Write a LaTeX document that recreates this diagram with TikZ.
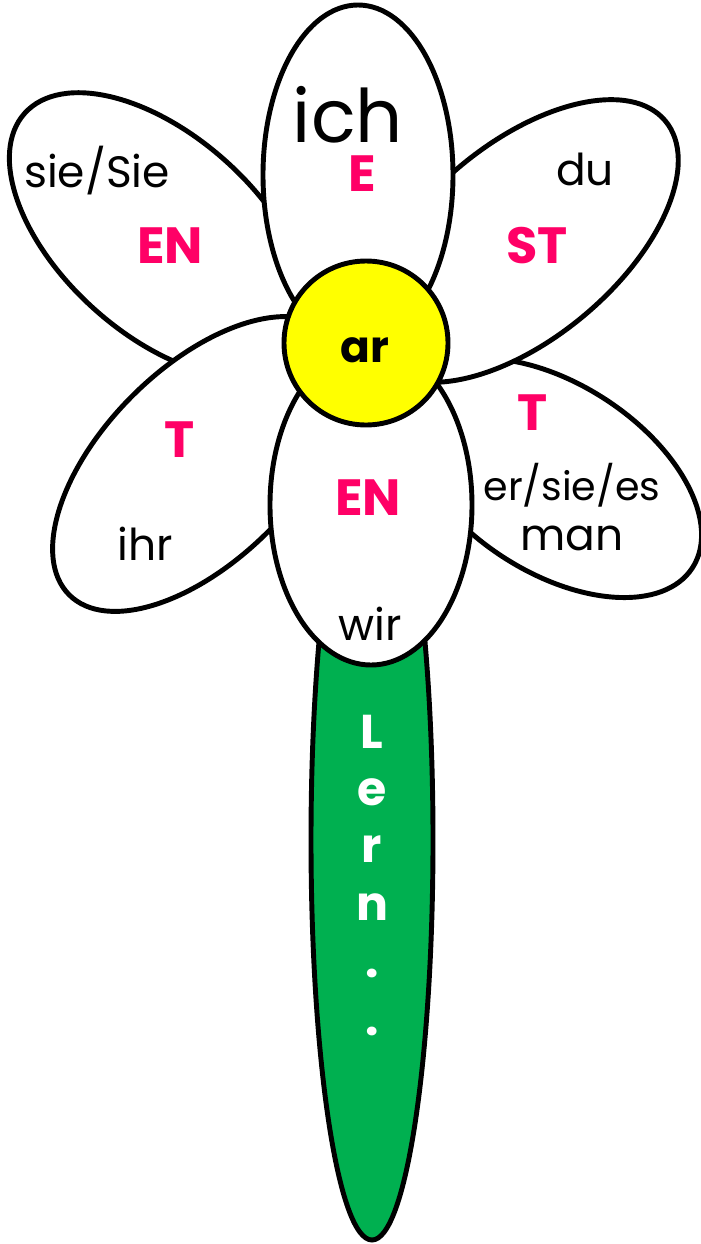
\documentclass[tikz,border=0pt]{standalone}
\usepackage{fontspec}
\setmainfont{Poppins}
\definecolor{endingpink}{RGB}{255,0,102}
\definecolor{stemgreen}{RGB}{0,176,80}
\definecolor{heartyellow}{RGB}{255,255,0}

\begin{document}
\begin{tikzpicture}[x=0.02cm,y=0.02cm,
  petal/.style={draw=black,line width=2.8pt,fill=white},
  ending/.style={text=endingpink,font=\bfseries\fontsize{29}{29}\selectfont,anchor=base,inner sep=0pt},
  pronoun/.style={font=\fontsize{25}{25}\selectfont,anchor=base,inner sep=0pt},
  stemtext/.style={text=white,font=\bfseries\fontsize{27}{27}\selectfont,anchor=base,inner sep=0pt}]
\useasboundingbox (0,0) rectangle (700,-1244);
% stem first, the petals cover its top
\draw [petal,fill=stemgreen] (372,-840) ellipse [x radius=61,y radius=400];
% petals, from back to front
\draw [petal,rotate around={-42:(160,-235)}] (160,-235) ellipse [x radius=182,y radius=99];
\draw [petal,rotate around={45:(200,-464)}] (200,-464) ellipse [x radius=185,y radius=96];
\draw [petal,rotate around={-33:(554,-478)}] (554,-478) ellipse [x radius=165,y radius=94];
\draw [petal,rotate around={40:(522,-241)}] (522,-241) ellipse [x radius=187,y radius=97];
\draw [petal] (358,-175) ellipse [x radius=95,y radius=170];
\draw [petal] (371,-505) ellipse [x radius=101,y radius=160];
% middle of the flower
\draw [petal,fill=heartyellow] (366,-343) circle [radius=82];
\node [font=\bfseries\fontsize{25}{25}\selectfont,anchor=base,inner sep=0pt] (stemword) at (365,-362) {ar};
% ich
\node [font=\fontsize{42}{42}\selectfont,anchor=base,inner sep=0pt] (ich) at (348,-142) {ich};
\node [ending] (ichend) at (362,-191) {E};
% du
\node [pronoun] (du) at (585,-185) {du};
\node [ending] (duend) at (537,-263) {ST};
% er/sie/es
\node [ending] (erend) at (533,-430) {T};
\node [pronoun,font=\fontsize{22.5}{22.5}\selectfont] (er) at (572,-500) {er/sie/es};
\node [pronoun] (man) at (572,-550) {man};
% wir
\node [ending] (wirend) at (368,-515) {EN};
\node [pronoun] (wir) at (370,-640) {wir};
% ihr
\node [ending] (ihrend) at (180,-457) {T};
\node [pronoun] (ihr) at (145,-560) {ihr};
% sie/Sie
\node [pronoun] (sie) at (97,-187) {sie/Sie};
\node [ending] (sieend) at (170,-263) {EN};
% word on the stem
\foreach \ch [count=\i] in {L,e,r,n,.,.}
  \node [stemtext] (stem\i) at (372,{-748-57.4*(\i-1)}) {\ch};
\end{tikzpicture}
\end{document}
